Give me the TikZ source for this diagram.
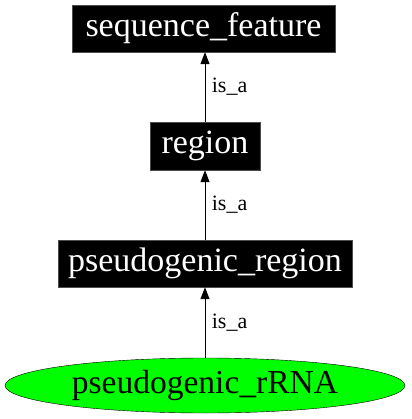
\documentclass[tikz,border=0pt]{standalone}
\usepackage{fontspec}
\setmainfont{Liberation Serif}
\usetikzlibrary{arrows.meta,shapes.geometric}

\begin{document}
\begin{tikzpicture}[x=1pt, y=-1pt,
  termbox/.style={fill=black, draw=black!70, text=white, inner sep=0pt,
    font=\fontsize{34}{38}\selectfont},
  termoval/.style={ellipse, fill=green, draw=black, inner sep=0pt,
    font=\fontsize{33.5}{38}\selectfont},
  isa/.style={draw=black, line width=1pt, -{Triangle[length=12pt,width=9pt]}},
  isalabel/.style={anchor=west, font=\fontsize{22}{26}\selectfont}]

\useasboundingbox (0, 0) rectangle (411, 419);

\node[termbox, minimum width=263pt, minimum height=47pt] (seqfeature) at (203.5, 28.5) {sequence\_feature};
\node[termbox, minimum width=110pt, minimum height=48pt] (region) at (205, 146) {region};
\node[termbox, minimum width=294pt, minimum height=47pt] (pseudoregion) at (205, 263.5) {pseudogenic\_region};
\node[termoval, minimum width=400pt, minimum height=55pt] (pseudorrna) at (205, 385.5) {pseudogenic\_rRNA};

\draw[isa] (region.north -| 205, 0) -- (seqfeature.south -| 205, 0) node[isalabel] at (208, 87) {is\_a};
\draw[isa] (pseudoregion.north -| 205, 0) -- (region.south -| 205, 0) node[isalabel] at (208, 205) {is\_a};
\draw[isa] (pseudorrna.north) -- (pseudoregion.south) node[isalabel] at (208, 323) {is\_a};
\end{tikzpicture}
\end{document}
